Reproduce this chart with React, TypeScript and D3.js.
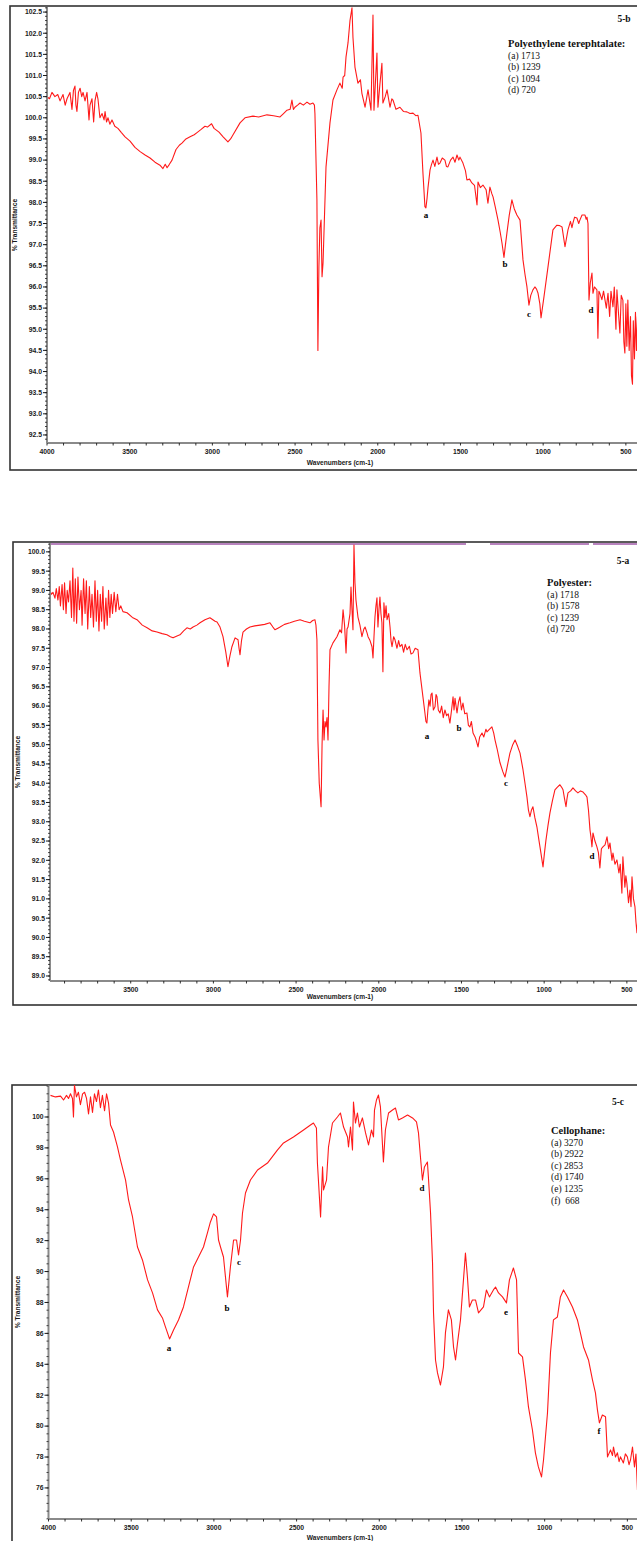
import React from 'react';
import * as d3 from 'd3';

type Pt = [number, number];

// ---- data (wavenumber cm-1, % transmittance) ----

const petSpectrum: Pt[] = [
  [4000, 100.5], [3985, 100.45], [3970, 100.6], [3952, 100.5], [3935, 100.55], [3921, 100.4], [3903, 100.55],
  [3890, 100.3], [3879, 100.45], [3861, 100.6], [3849, 100.2], [3840, 100.65], [3831, 100.75], [3825, 100.3],
  [3819, 100.15], [3810, 100.6], [3800, 100.7], [3790, 100.5], [3782, 100.6], [3770, 100.4], [3758, 100.6],
  [3746, 99.95], [3740, 100.3], [3728, 100.45], [3718, 99.9], [3710, 100.4], [3700, 100.6], [3692, 100.45],
  [3680, 100.0], [3667, 100.1], [3655, 99.95], [3649, 100.15], [3640, 99.9], [3631, 100.0], [3620, 99.85],
  [3607, 99.95], [3590, 99.8], [3571, 99.75], [3550, 99.65], [3528, 99.55], [3498, 99.45], [3468, 99.3],
  [3437, 99.2], [3407, 99.12], [3377, 99.05], [3347, 98.95], [3317, 98.88], [3299, 98.8], [3285, 98.9],
  [3274, 98.82], [3260, 98.9], [3244, 99.0], [3220, 99.25], [3200, 99.35], [3184, 99.4], [3160, 99.5],
  [3135, 99.55], [3110, 99.6], [3093, 99.65], [3070, 99.72], [3045, 99.8], [3030, 99.78], [3005, 99.86],
  [2990, 99.75], [2960, 99.66], [2935, 99.55], [2906, 99.43], [2890, 99.5], [2875, 99.6], [2833, 99.88],
  [2803, 100.0], [2755, 100.04], [2720, 100.02], [2670, 100.07], [2630, 100.05], [2591, 100.02], [2570, 100.1],
  [2549, 100.18], [2530, 100.2], [2519, 100.42], [2510, 100.2], [2501, 100.25], [2485, 100.3], [2470, 100.35],
  [2450, 100.3], [2428, 100.37], [2410, 100.32], [2392, 100.35], [2383, 100.3], [2380, 100.1], [2368, 98.06],
  [2362, 94.5], [2356, 96.47], [2350, 97.4], [2343, 97.58], [2337, 96.24], [2331, 96.57], [2313, 98.84],
  [2289, 99.88], [2271, 100.42], [2247, 100.66], [2229, 100.82], [2215, 100.7], [2210, 100.96], [2200, 101.0],
  [2192, 101.44], [2180, 101.77], [2168, 102.3], [2156, 102.6], [2150, 101.9], [2138, 101.2], [2120, 100.82],
  [2105, 100.9], [2096, 100.58], [2077, 100.25], [2059, 100.66], [2041, 100.18], [2029, 102.43], [2023, 100.18],
  [2005, 101.53], [1999, 100.25], [1987, 100.8], [1975, 101.29], [1969, 100.35], [1955, 100.5], [1944, 100.66],
  [1926, 100.25], [1915, 100.45], [1908, 100.42], [1890, 100.2], [1866, 100.25], [1845, 100.15], [1824, 100.14],
  [1805, 100.1], [1787, 100.11], [1770, 100.05], [1757, 100.06], [1739, 99.64], [1727, 98.7], [1715, 97.9],
  [1709, 97.87], [1702, 98.1], [1696, 98.36], [1684, 98.77], [1675, 98.9], [1666, 99.0], [1655, 98.85],
  [1642, 99.07], [1633, 98.9], [1624, 98.93], [1610, 99.05], [1594, 99.0], [1585, 98.85], [1576, 98.84],
  [1560, 99.0], [1545, 99.07], [1533, 98.95], [1521, 99.12], [1510, 99.0], [1503, 99.07], [1485, 98.93],
  [1470, 98.75], [1461, 98.53], [1445, 98.55], [1431, 98.46], [1415, 98.4], [1400, 97.94], [1394, 98.48],
  [1380, 98.35], [1364, 98.41], [1345, 98.3], [1334, 97.98], [1322, 98.36], [1310, 98.2], [1303, 98.13],
  [1290, 97.9], [1273, 97.58], [1260, 97.3], [1249, 97.04], [1237, 96.7], [1228, 97.0], [1219, 97.28],
  [1205, 97.7], [1189, 98.06], [1175, 97.85], [1159, 97.7], [1140, 97.58], [1122, 96.64], [1110, 96.3],
  [1098, 96.0], [1086, 95.57], [1075, 95.8], [1062, 95.93], [1050, 96.0], [1040, 95.95], [1031, 95.85],
  [1020, 95.6], [1013, 95.27], [995, 95.77], [971, 96.47], [941, 97.35], [917, 97.46], [900, 97.45],
  [886, 97.42], [868, 96.95], [850, 97.35], [835, 97.55], [826, 97.4], [820, 97.51], [810, 97.65], [796, 97.63],
  [785, 97.5], [778, 97.58], [765, 97.7], [747, 97.7], [740, 97.6], [735, 97.65], [729, 97.5], [723, 95.69],
  [715, 96.1], [705, 96.33], [699, 95.85], [690, 96.0], [675, 95.93], [669, 94.79], [663, 95.9], [657, 95.85],
  [645, 95.7], [635, 95.9], [626, 95.69], [618, 95.5], [608, 95.85], [598, 95.3], [590, 95.9], [578, 95.53],
  [570, 96.0], [560, 95.0], [554, 95.93], [545, 95.4], [536, 94.91], [528, 95.8], [518, 95.69], [512, 94.7],
  [506, 94.44], [500, 95.6], [494, 94.6], [488, 95.69], [480, 94.5], [472, 95.3], [466, 93.9], [460, 93.7],
  [455, 95.2], [448, 94.3], [442, 95.4], [436, 94.5], [430, 95.3], [424, 94.8],
];

const polyesterSpectrum: Pt[] = [
  [3988, 99.0], [3980, 98.9], [3970, 98.95], [3958, 98.8], [3950, 99.05], [3940, 98.75], [3932, 99.1],
  [3925, 98.6], [3915, 99.15], [3907, 98.5], [3900, 99.2], [3891, 98.4], [3884, 99.0], [3876, 98.7],
  [3867, 99.25], [3858, 98.3], [3850, 99.58], [3843, 98.2], [3835, 99.3], [3827, 98.15], [3819, 99.35],
  [3810, 98.5], [3800, 99.0], [3794, 98.1], [3785, 99.3], [3776, 98.4], [3768, 99.25], [3760, 98.0],
  [3750, 99.1], [3742, 98.3], [3734, 98.9], [3725, 98.05], [3716, 99.25], [3708, 98.2], [3700, 99.0],
  [3692, 97.95], [3684, 98.9], [3676, 98.2], [3668, 99.1], [3660, 98.0], [3650, 98.8], [3642, 98.1],
  [3634, 99.0], [3626, 98.3], [3618, 98.9], [3610, 98.4], [3600, 98.95], [3590, 98.45], [3580, 98.9],
  [3570, 98.5], [3560, 98.6], [3547, 98.45], [3522, 98.42], [3490, 98.3], [3462, 98.24], [3430, 98.1],
  [3401, 98.03], [3370, 97.95], [3341, 97.92], [3310, 97.88], [3281, 97.85], [3260, 97.8], [3244, 97.77],
  [3220, 97.82], [3202, 97.85], [3180, 97.95], [3160, 98.03], [3140, 98.0], [3123, 98.05], [3100, 98.1],
  [3081, 98.16], [3051, 98.24], [3021, 98.29], [2990, 98.2], [2978, 98.18], [2960, 98.05], [2942, 97.8],
  [2925, 97.4], [2912, 97.02], [2900, 97.3], [2888, 97.54], [2869, 97.77], [2851, 97.72], [2845, 97.5],
  [2839, 97.33], [2830, 97.7], [2821, 97.92], [2800, 98.0], [2779, 98.05], [2750, 98.08], [2718, 98.1],
  [2690, 98.12], [2658, 98.16], [2640, 98.05], [2628, 97.98], [2610, 98.02], [2597, 98.05], [2570, 98.12],
  [2537, 98.16], [2510, 98.2], [2476, 98.24], [2450, 98.2], [2416, 98.16], [2400, 98.22], [2386, 98.24],
  [2380, 98.1], [2374, 97.72], [2368, 95.12], [2360, 94.0], [2349, 93.39], [2343, 95.0], [2337, 95.9],
  [2331, 95.12], [2325, 95.6], [2319, 95.46], [2313, 95.7], [2307, 95.12], [2301, 96.5], [2295, 97.46],
  [2277, 97.64], [2253, 97.8], [2235, 97.98], [2225, 97.9], [2216, 98.5], [2207, 98.1], [2198, 97.38],
  [2192, 98.0], [2186, 98.05], [2174, 98.4], [2168, 99.09], [2162, 98.5], [2156, 97.98], [2150, 100.18],
  [2144, 99.2], [2138, 98.75], [2126, 98.31], [2114, 98.1], [2102, 97.8], [2090, 98.0], [2083, 98.05],
  [2071, 97.9], [2065, 97.8], [2053, 97.7], [2041, 97.54], [2035, 97.25], [2029, 97.8], [2023, 98.31],
  [2017, 98.6], [2011, 98.81], [2005, 98.05], [1999, 98.5], [1993, 98.83], [1987, 98.4], [1981, 98.16],
  [1975, 96.89], [1969, 98.68], [1963, 98.3], [1956, 98.6], [1950, 98.24], [1940, 98.4], [1932, 98.05],
  [1926, 97.7], [1920, 97.54], [1910, 97.8], [1902, 97.72], [1890, 97.5], [1880, 97.7], [1872, 97.54],
  [1860, 97.6], [1850, 97.4], [1840, 97.6], [1829, 97.46], [1815, 97.55], [1805, 97.35], [1793, 97.38],
  [1780, 97.5], [1763, 97.46], [1751, 96.86], [1733, 96.24], [1721, 95.82], [1715, 95.6], [1709, 95.56],
  [1703, 95.9], [1697, 96.16], [1690, 96.0], [1684, 96.3], [1678, 96.34], [1670, 95.9], [1660, 95.98],
  [1654, 96.3], [1648, 96.24], [1640, 95.9], [1630, 95.82], [1620, 96.0], [1610, 95.7], [1600, 95.9],
  [1590, 95.75], [1580, 95.8], [1570, 95.56], [1560, 95.9], [1551, 96.24], [1545, 95.9], [1539, 96.2],
  [1527, 95.82], [1518, 96.1], [1509, 96.24], [1500, 95.9], [1491, 96.08], [1480, 95.8], [1467, 95.82],
  [1458, 95.5], [1449, 95.46], [1440, 95.6], [1430, 95.3], [1418, 95.2], [1410, 95.1], [1400, 94.94],
  [1390, 95.2], [1376, 95.3], [1365, 95.2], [1352, 95.4], [1346, 95.33], [1330, 95.4], [1316, 95.46],
  [1305, 95.3], [1297, 95.12], [1285, 94.9], [1267, 94.53], [1250, 94.3], [1237, 94.16], [1225, 94.4],
  [1207, 94.78], [1190, 95.0], [1176, 95.12], [1160, 94.95], [1146, 94.78], [1128, 94.35], [1116, 94.0],
  [1104, 93.64], [1095, 93.3], [1086, 93.13], [1077, 93.3], [1068, 93.39], [1056, 93.1], [1044, 92.87],
  [1032, 92.53], [1020, 92.2], [1007, 91.83], [998, 92.2], [989, 92.53], [977, 92.9], [965, 93.23],
  [950, 93.55], [935, 93.83], [920, 93.9], [905, 93.96], [895, 93.9], [886, 93.83], [877, 93.6], [868, 93.39],
  [862, 93.6], [856, 93.75], [840, 93.8], [826, 93.88], [810, 93.8], [796, 93.75], [780, 93.8], [765, 93.77],
  [750, 93.7], [741, 93.64], [732, 93.3], [723, 92.79], [717, 92.6], [711, 92.35], [705, 92.71], [693, 92.5],
  [681, 92.35], [672, 92.2], [663, 91.8], [654, 92.3], [645, 92.35], [632, 92.4], [620, 92.61], [610, 92.3],
  [602, 92.45], [590, 92.0], [584, 92.19], [572, 91.9], [560, 92.01], [548, 91.67], [540, 91.9], [530, 91.15],
  [524, 92.09], [512, 91.3], [506, 91.6], [500, 91.41], [490, 90.9], [481, 91.23], [475, 90.8], [469, 91.57],
  [460, 91.0], [451, 90.79], [445, 90.4], [439, 90.12], [432, 90.6],
];

const cellophaneSpectrum: Pt[] = [
  [3988, 101.4], [3958, 101.3], [3927, 101.35], [3909, 101.1], [3891, 101.4], [3879, 101.2], [3867, 101.5],
  [3855, 101.2], [3849, 100.0], [3843, 102.05], [3831, 101.3], [3819, 101.6], [3807, 100.8], [3794, 101.5],
  [3782, 101.6], [3770, 101.2], [3758, 100.2], [3746, 101.3], [3734, 100.3], [3722, 101.5], [3710, 101.0],
  [3698, 101.75], [3686, 100.6], [3674, 101.4], [3661, 100.4], [3649, 101.5], [3637, 100.9], [3625, 99.48],
  [3607, 99.03], [3583, 98.06], [3565, 97.22], [3534, 95.92], [3516, 94.63], [3492, 93.53], [3462, 91.59],
  [3432, 90.75], [3401, 89.46], [3371, 88.62], [3341, 87.52], [3311, 87.0], [3293, 86.42], [3268, 85.64],
  [3244, 86.22], [3214, 86.87], [3184, 87.71], [3154, 89.0], [3123, 90.3], [3093, 90.94], [3063, 91.59],
  [3039, 92.5], [3021, 93.21], [3002, 93.73], [2984, 93.53], [2972, 92.04], [2960, 91.59], [2942, 90.94],
  [2918, 88.36], [2900, 90.3], [2881, 92.04], [2863, 92.04], [2851, 91.07], [2839, 92.04], [2827, 93.79],
  [2809, 95.08], [2779, 95.92], [2736, 96.57], [2676, 97.02], [2615, 97.87], [2579, 98.32], [2519, 98.71],
  [2458, 99.16], [2416, 99.48], [2398, 99.61], [2380, 99.29], [2374, 97.02], [2355, 93.53], [2343, 96.77],
  [2337, 95.28], [2319, 95.92], [2307, 98.06], [2283, 99.61], [2253, 100.0], [2235, 100.26], [2216, 99.35],
  [2192, 98.71], [2186, 98.06], [2174, 99.35], [2162, 97.87], [2156, 100.97], [2144, 99.61], [2132, 100.26],
  [2120, 99.35], [2102, 99.94], [2083, 98.97], [2065, 98.19], [2047, 99.16], [2035, 98.71], [2029, 100.45],
  [2017, 101.1], [2005, 101.42], [1993, 100.65], [1975, 97.09], [1963, 99.16], [1944, 100.26], [1920, 100.45],
  [1902, 100.58], [1884, 99.81], [1860, 99.94], [1829, 100.13], [1799, 99.94], [1775, 99.68], [1763, 98.97],
  [1751, 97.41], [1739, 95.92], [1727, 96.77], [1709, 97.09], [1703, 96.12], [1690, 93.79], [1678, 90.56],
  [1672, 87.32], [1660, 84.28], [1648, 83.44], [1630, 82.66], [1612, 83.83], [1600, 86.03], [1582, 87.52],
  [1564, 86.87], [1551, 85.12], [1539, 84.28], [1527, 85.38], [1509, 86.87], [1491, 89.46], [1479, 91.2],
  [1467, 89.65], [1455, 87.71], [1437, 88.16], [1418, 88.16], [1400, 87.32], [1370, 87.71], [1352, 88.81],
  [1334, 88.36], [1310, 88.81], [1297, 89.0], [1279, 88.62], [1255, 88.36], [1231, 87.97], [1213, 89.46],
  [1189, 90.23], [1170, 89.46], [1158, 84.73], [1134, 84.48], [1116, 82.99], [1098, 81.24], [1074, 79.75],
  [1056, 78.27], [1038, 77.36], [1019, 76.71], [1007, 77.81], [983, 80.85], [965, 84.73], [947, 86.87],
  [923, 87.06], [905, 88.36], [886, 88.81], [862, 88.36], [832, 87.71], [802, 86.87], [784, 86.03],
  [765, 85.12], [735, 84.28], [711, 82.99], [693, 82.15], [681, 81.05], [669, 80.21], [651, 80.72],
  [632, 80.6], [620, 78.01], [602, 78.46], [590, 78.1], [584, 78.65], [572, 78.0], [560, 78.27], [550, 77.7],
  [542, 78.01], [524, 77.62], [512, 78.2], [500, 78.01], [490, 77.5], [481, 77.81], [469, 78.65], [457, 77.36],
  [448, 78.2], [439, 75.87],
];

// peak letters and where they sit on the plot
const petPeakNames = ['a', 'b', 'c', 'd'];
const petPeakPos: Pt[] = [[1709, 97.7], [1231, 96.54], [1086, 95.36], [711, 95.46]];
const polyesterPeakNames = ['a', 'b', 'c', 'd'];
const polyesterPeakPos: Pt[] = [[1709, 95.23], [1515, 95.43], [1231, 94.01], [711, 92.11]];
const cellophanePeakNames = ['a', 'b', 'c', 'd', 'e', 'f'];
const cellophanePeakPos: Pt[] = [[3271, 85.06], [2921, 87.65], [2848, 90.62], [1742, 95.41], [1234, 87.39], [672, 79.69]];

// legends
const petLegend = ['(a) 1713', '(b) 1239', '(c) 1094', '(d) 720'];
const polyesterLegend = ['(a) 1718', '(b) 1578', '(c) 1239', '(d) 720'];
const cellophaneLegend = ['(a) 3270', '(b) 2922', '(c) 2853', '(d) 1740', '(e) 1235', '(f)  668'];

// ticks
const xTickValues = [4000, 3500, 3000, 2500, 2000, 1500, 1000, 500];
const petYTicks = [92.5, 93.0, 93.5, 94.0, 94.5, 95.0, 95.5, 96.0, 96.5, 97.0, 97.5, 98.0, 98.5, 99.0, 99.5,
  100.0, 100.5, 101.0, 101.5, 102.0, 102.5];
const polyesterYTicks = [89.0, 89.5, 90.0, 90.5, 91.0, 91.5, 92.0, 92.5, 93.0, 93.5, 94.0, 94.5, 95.0, 95.5,
  96.0, 96.5, 97.0, 97.5, 98.0, 98.5, 99.0, 99.5, 100.0];
const cellophaneYTicks = [76, 78, 80, 82, 84, 86, 88, 90, 92, 94, 96, 98, 100];

const RED = '#ff1a1a';
const AXIS = '#8a8a8a';
const INK = '#1a1a1a';
const SANS = '"Liberation Sans", Arial, sans-serif';
const SERIF = '"Liberation Serif", "Times New Roman", serif';

interface PanelSpec {
  id: string;
  frame: { x: number; y: number; w: number; h: number };
  left: number; right: number; top: number; bottom: number;
  xDomain: [number, number];
  yDomain: [number, number];
  yTicks: number[];
  yMinorStep: number;
  yFormat: (v: number) => string;
  data: Pt[];
  peakNames: string[];
  peakPos: Pt[];
  tag: string; tagX: number; tagY: number;
  title: string; legend: string[]; legendX: number; legendY: number;
  yTitleX: number; xTitleY: number;
  purpleTop?: boolean;
}

function Panel(p: PanelSpec) {
  const x = d3.scaleLinear().domain(p.xDomain).range([p.left, p.right]);
  const y = d3.scaleLinear().domain(p.yDomain).range([p.bottom, p.top]);
  const line = d3.line<Pt>().x(d => x(d[0])).y(d => y(d[1]));

  const [y0, y1] = p.yDomain;
  const yMinor = d3.range(Math.ceil(y0 / p.yMinorStep), Math.floor(y1 / p.yMinorStep) + 1)
    .map(k => k * p.yMinorStep);
  const xMinor = d3.range(4000, 399, -100).filter(v => v <= p.xDomain[0]);
  const xMajor = xTickValues.filter(v => v <= p.xDomain[0]);
  const midY = (p.top + p.bottom) / 2;

  return (
    <g>
      <rect x={p.frame.x} y={p.frame.y} width={p.frame.w} height={p.frame.h}
        fill="#fff" stroke="#333" strokeWidth={1.6} />
      {p.purpleTop && (
        <g stroke="#a05aa8" strokeWidth={1.6}>
          <line x1={p.left} x2={466} y1={p.top + 1} y2={p.top + 1} />
          <line x1={490} x2={589} y1={p.top + 1} y2={p.top + 1} />
          <line x1={593} x2={700} y1={p.top + 1} y2={p.top + 1} />
        </g>
      )}

      <clipPath id={`clip-${p.id}`}>
        <rect x={p.left} y={p.top} width={p.right - p.left} height={p.bottom - p.top} />
      </clipPath>
      <path d={line(p.data) || ''} fill="none" stroke={RED} strokeWidth={1.1}
        strokeLinejoin="round" clipPath={`url(#clip-${p.id})`} />

      {/* y axis */}
      <line x1={p.left} x2={p.left} y1={p.top} y2={p.bottom} stroke={AXIS} strokeWidth={2} />
      {yMinor.map((v, i) => (
        <line key={`ym${i}`} x1={p.left - 2} x2={p.left} y1={y(v)} y2={y(v)} stroke={INK} strokeWidth={0.8} />
      ))}
      {p.yTicks.map(v => (
        <g key={`y${v}`}>
          <line x1={p.left - 4} x2={p.left} y1={y(v)} y2={y(v)} stroke={INK} strokeWidth={1} />
          <text x={p.left - 5} y={y(v)} dy="0.35em" textAnchor="end" fontFamily={SANS}
            fontWeight="bold" fontSize={6.8} fill={INK}>{p.yFormat(v)}</text>
        </g>
      ))}

      {/* x axis */}
      <line x1={p.left} x2={700} y1={p.bottom} y2={p.bottom} stroke={AXIS} strokeWidth={2} />
      {xMinor.map(v => (
        <line key={`xm${v}`} x1={x(v)} x2={x(v)} y1={p.bottom} y2={p.bottom + 2.5} stroke={INK} strokeWidth={0.9} />
      ))}
      {xMajor.map(v => (
        <text key={`x${v}`} x={x(v)} y={p.bottom + 11} textAnchor="middle" fontFamily={SANS}
          fontWeight="bold" fontSize={6.8} fill={INK}>{v}</text>
      ))}

      <text transform={`translate(${p.yTitleX},${midY}) rotate(-90)`} textAnchor="middle"
        fontFamily={SANS} fontWeight="bold" fontSize={6.6} fill={INK}>% Transmittance</text>
      <text x={340} y={p.xTitleY} textAnchor="middle" fontFamily={SANS} fontWeight="bold"
        fontSize={6.6} fill={INK}>Wavenumbers (cm-1)</text>

      {p.peakNames.map((n, i) => (
        <text key={`pk${n}`} x={x(p.peakPos[i][0])} y={y(p.peakPos[i][1])} dy="0.35em" textAnchor="middle"
          fontFamily={SERIF} fontWeight="bold" fontSize={9} fill="#000">{n}</text>
      ))}

      <text x={p.tagX} y={p.tagY} textAnchor="middle" fontFamily={SERIF} fontWeight="bold"
        fontSize={9.5} fill="#111">{p.tag}</text>
      <text x={p.legendX} y={p.legendY} fontFamily={SERIF} fontWeight="bold" fontSize={10.5}
        fill="#111">{p.title}</text>
      {p.legend.map((t, i) => (
        <text key={t} x={p.legendX} y={p.legendY + 11.6 * (i + 1)} fontFamily={SERIF} fontSize={9.5}
          fill="#111" style={{ whiteSpace: 'pre' }}>{t}</text>
      ))}
    </g>
  );
}

const fmt1 = (v: number) => v.toFixed(1);
const fmt0 = (v: number) => String(v);

const panels: PanelSpec[] = [
  {
    id: 'pet', frame: { x: 10, y: 6, w: 700, h: 464 },
    left: 47, right: 642.4, top: 7, bottom: 443,
    xDomain: [4000, 400], yDomain: [92.31, 102.62], yTicks: petYTicks, yMinorStep: 0.1, yFormat: fmt1,
    data: petSpectrum, peakNames: petPeakNames, peakPos: petPeakPos,
    tag: '5-b', tagX: 624, tagY: 22, title: 'Polyethylene terephtalate:', legend: petLegend,
    legendX: 508, legendY: 47, yTitleX: 17, xTitleY: 465,
  },
  {
    id: 'polyester', frame: { x: 13, y: 542, w: 700, h: 463 },
    left: 50, right: 643.4, top: 543, bottom: 981,
    xDomain: [3988, 400], yDomain: [88.87, 100.23], yTicks: polyesterYTicks, yMinorStep: 0.1, yFormat: fmt1,
    data: polyesterSpectrum, peakNames: polyesterPeakNames, peakPos: polyesterPeakPos,
    tag: '5-a', tagX: 623, tagY: 564, title: 'Polyester:', legend: polyesterLegend,
    legendX: 547, legendY: 586, yTitleX: 20, xTitleY: 999, purpleTop: true,
  },
  {
    id: 'cellophane', frame: { x: 12, y: 1085, w: 700, h: 500 },
    left: 48.5, right: 643.9, top: 1085, bottom: 1519,
    xDomain: [4000, 400], yDomain: [73.99, 102.07], yTicks: cellophaneYTicks, yMinorStep: 0.5, yFormat: fmt0,
    data: cellophaneSpectrum, peakNames: cellophanePeakNames, peakPos: cellophanePeakPos,
    tag: '5-c', tagX: 618, tagY: 1105, title: 'Cellophane:', legend: cellophaneLegend,
    legendX: 551, legendY: 1134, yTitleX: 20, xTitleY: 1540,
  },
];

export default function App() {
  return (
    <div style={{ position: 'absolute', left: 0, top: 0, width: 637, height: 1541, background: '#fff' }}>
      <svg width={637} height={1541} style={{ display: 'block', overflow: 'hidden' }}>
        <rect width={637} height={1541} fill="#fff" />
        {panels.map(p => <Panel key={p.id} {...p} />)}
      </svg>
    </div>
  );
}
